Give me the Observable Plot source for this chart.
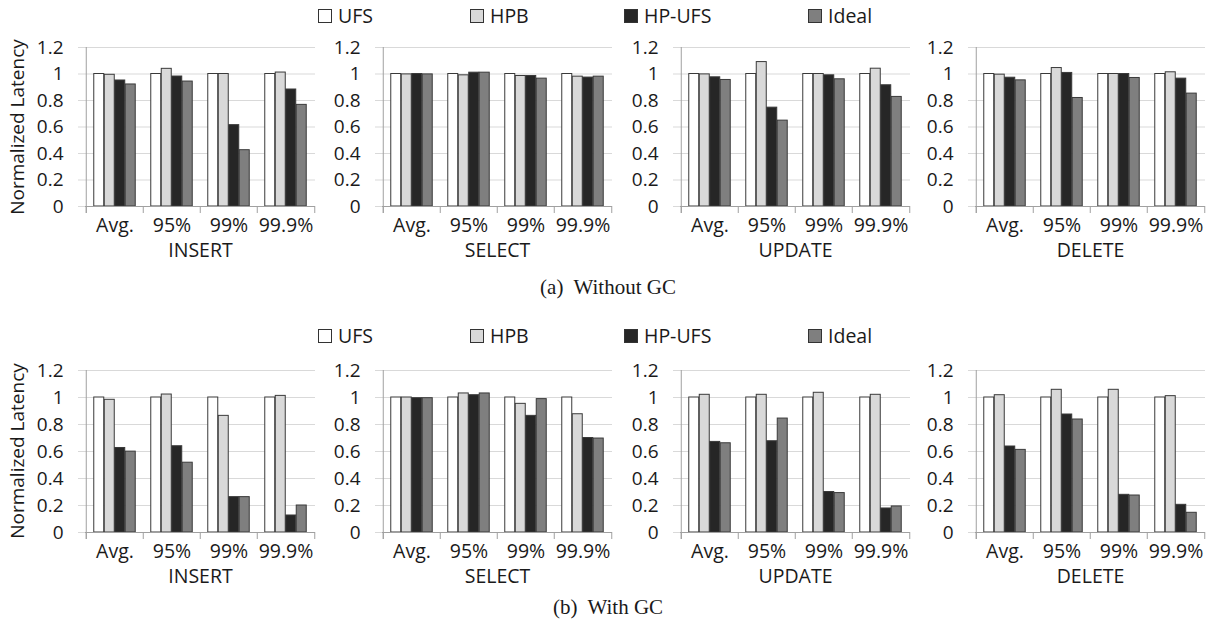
<!DOCTYPE html>
<html><head><meta charset="utf-8">
<script src="https://cdn.jsdelivr.net/npm/d3@7"></script>
<script src="https://cdn.jsdelivr.net/npm/@observablehq/plot@0.6"></script>
<style>
body{margin:0;background:#fff;}
#root{position:relative;width:1215px;height:624px;overflow:hidden;font-family:"Open Sans",sans-serif;color:#1a1a1a;}
.panel{position:absolute;}
.legend{position:absolute;font-size:19.5px;display:flex;align-items:center;line-height:1;}
.sw{width:12px;height:12px;border:1px solid #333;margin-right:6px;box-sizing:content-box;}
.cap{position:absolute;font-family:"Liberation Serif","Times New Roman",serif;font-size:21px;white-space:pre;transform:translate(-50%,-50%);}
.ylab{position:absolute;font-size:19px;white-space:nowrap;transform:translate(-50%,-50%) rotate(-90deg);}
</style></head><body><div id="root"></div>
<script>
// ---- data ----
const series = ["UFS", "HPB", "HP-UFS", "Ideal"];
const stats = ["Avg.", "95%", "99%", "99.9%"];
const ops = ["INSERT", "SELECT", "UPDATE", "DELETE"];
const yTicks = [0, 0.2, 0.4, 0.6, 0.8, 1, 1.2];
const captions = ["(a)  Without GC", "(b)  With GC"];
const yLabel = "Normalized Latency";

// rows: stat (Avg., 95%, 99%, 99.9%); columns: UFS, HPB, HP-UFS, Ideal
const noGcInsert = [[1, 0.994, 0.951, 0.921], [1, 1.039, 0.981, 0.943], [1, 1.0, 0.614, 0.425], [1, 1.011, 0.883, 0.767]];
const noGcSelect = [[1, 0.997, 1.0, 0.997], [1, 0.99, 1.01, 1.01], [1, 0.985, 0.985, 0.965], [1, 0.98, 0.973, 0.98]];
const noGcUpdate = [[1, 0.997, 0.975, 0.955], [1, 1.09, 0.746, 0.648], [1, 1.0, 0.99, 0.96], [1, 1.04, 0.915, 0.827]];
const noGcDelete = [[1, 0.995, 0.972, 0.952], [1, 1.045, 1.008, 0.819], [1, 1.0, 1.0, 0.97], [1, 1.013, 0.965, 0.852]];

const gcInsert = [[1, 0.983, 0.626, 0.599], [1, 1.022, 0.639, 0.517], [1, 0.864, 0.262, 0.262], [1, 1.012, 0.126, 0.2]];
const gcSelect = [[1, 1.0, 0.995, 0.995], [1, 1.03, 1.017, 1.03], [1, 0.953, 0.864, 0.988], [1, 0.876, 0.7, 0.696]];
const gcUpdate = [[1, 1.02, 0.671, 0.661], [1, 1.02, 0.676, 0.844], [1, 1.035, 0.3, 0.292], [1, 1.02, 0.178, 0.193]];
const gcDelete = [[1, 1.017, 0.637, 0.612], [1, 1.057, 0.874, 0.837], [1, 1.057, 0.279, 0.274], [1, 1.01, 0.205, 0.146]];

// ---- style / layout ----
const colors = ["#ffffff", "#d9d9d9", "#262626", "#7f7f7f"];
const rowsCfg = [
  {sets: [noGcInsert, noGcSelect, noGcUpdate, noGcDelete], top: 47, h: 159, legendY: 16, capY: 287},
  {sets: [gcInsert, gcSelect, gcUpdate, gcDelete], top: 369.5, h: 162, legendY: 336, capY: 607}
];
const panelLefts = [85, 382, 680, 975];
const PW = 230;
const ML = 60, MR = 10, MT = 10, MB = 60;
const legendX = [318, 470, 624, 808];

const root = document.getElementById("root");

function toRows(set) {
  const out = [];
  stats.forEach((s, i) => series.forEach((k, j) => out.push({stat: s, series: k, si: j, v: set[i][j]})));
  return out;
}

rowsCfg.forEach((row, r) => {
  row.sets.forEach((set, p) => {
    const data = toRows(set);
    const bw = PW / stats.length;
    const gw = bw * 0.73;
    const w = gw / series.length;
    const pad = (bw - gw) / 2;
    const marks = [
      Plot.gridY({ticks: yTicks, stroke: "#d9d9d9", strokeOpacity: 1, insetLeft: -7}),
      ...series.map((k, i) => Plot.barY(data.filter(d => d.series === k), {
        x: "stat", y: "v", fill: colors[i], stroke: "#3a3a3a", strokeWidth: 1,
        insetLeft: pad + i * w, insetRight: bw - pad - (i + 1) * w
      })),
      Plot.ruleY([0], {stroke: "#a0a0a0"}),
      Plot.ruleX([stats[0]], {x: d => d, dx: -bw / 2, stroke: "#a0a0a0", insetBottom: -7}),
      Plot.ruleX(stats, {x: d => d, dx: -bw / 2, stroke: "#a0a0a0", insetTop: row.h, insetBottom: -7}),
      Plot.ruleX([stats[stats.length - 1]], {x: d => d, dx: bw / 2, stroke: "#a0a0a0", insetTop: row.h, insetBottom: -7}),
      Plot.axisY({ticks: yTicks, tickSize: 0, tickPadding: 22, fontSize: 19, tickFormat: d => `${d}`, label: null}),
      Plot.axisX({tickSize: 0, tickPadding: 12, fontSize: 19.5, label: null}),
      Plot.text([ops[p]], {frameAnchor: "bottom", text: d => d, dy: 50, fontSize: 19.5})
    ];
    const svg = Plot.plot({
      width: ML + PW + MR, height: MT + row.h + MB,
      marginLeft: ML, marginRight: MR, marginTop: MT, marginBottom: MB,
      style: {background: "transparent", overflow: "visible", fontFamily: "'Open Sans', sans-serif", color: "#1a1a1a"},
      x: {type: "band", domain: stats, padding: 0},
      y: {domain: [0, 1.2]},
      marks
    });
    const div = document.createElement("div");
    div.className = "panel";
    div.style.left = (panelLefts[p] - ML) + "px";
    div.style.top = (row.top - MT) + "px";
    div.appendChild(svg);
    root.appendChild(div);
  });

  // legend
  series.forEach((k, i) => {
    const lg = document.createElement("div");
    lg.className = "legend";
    lg.style.left = legendX[i] + "px";
    lg.style.top = (row.legendY - 10) + "px";
    lg.style.height = "20px";
    const sw = document.createElement("div");
    sw.className = "sw";
    sw.style.background = colors[i];
    lg.appendChild(sw);
    lg.appendChild(document.createTextNode(k));
    root.appendChild(lg);
  });

  // y label
  const yl = document.createElement("div");
  yl.className = "ylab";
  yl.style.left = "17px";
  yl.style.top = (row.top + row.h / 2) + "px";
  yl.textContent = yLabel;
  root.appendChild(yl);

  // caption
  const cap = document.createElement("div");
  cap.className = "cap";
  cap.style.left = "608px";
  cap.style.top = row.capY + "px";
  cap.textContent = captions[r];
  root.appendChild(cap);
});
</script></body></html>
